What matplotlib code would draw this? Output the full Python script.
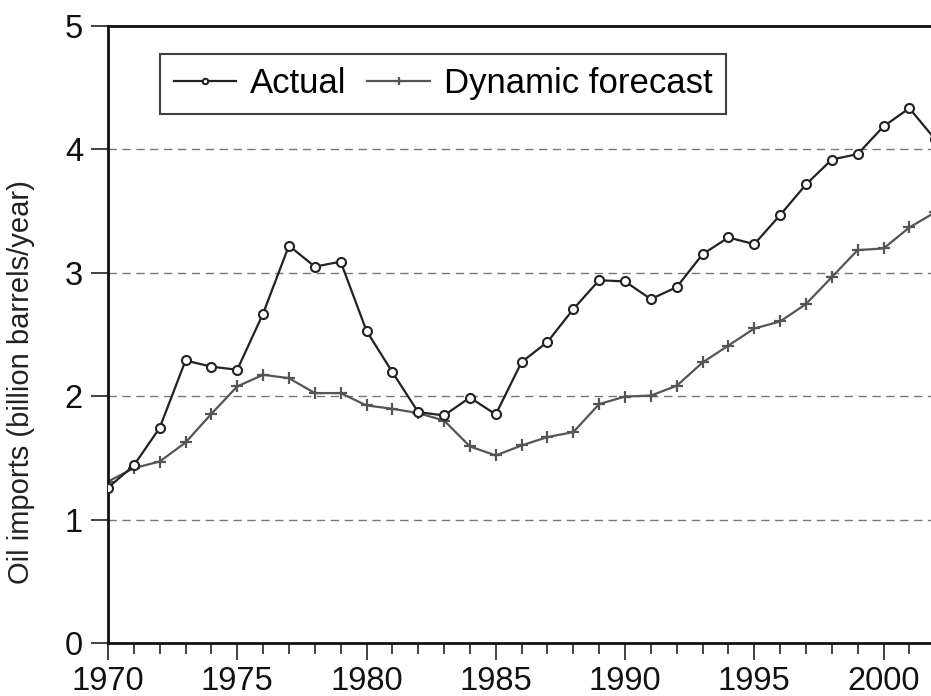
import matplotlib
matplotlib.use("Agg")
import matplotlib.pyplot as plt
from matplotlib.ticker import MultipleLocator

years = list(range(1970, 2003))
actual = [1.26, 1.44, 1.745, 2.29, 2.24, 2.215, 2.67, 3.22, 3.05, 3.09,
          2.53, 2.196, 1.872, 1.845, 1.99, 1.853, 2.277, 2.44, 2.706, 2.94,
          2.93, 2.787, 2.884, 3.15, 3.286, 3.232, 3.467, 3.715, 3.917, 3.961,
          4.185, 4.333, 4.08]
forecast = [1.31, 1.418, 1.472, 1.626, 1.858, 2.08, 2.174, 2.147, 2.026, 2.026,
            1.926, 1.899, 1.864, 1.804, 1.594, 1.521, 1.602, 1.67, 1.71, 1.937,
            1.998, 2.006, 2.085, 2.274, 2.411, 2.549, 2.606, 2.747, 2.965, 3.184,
            3.197, 3.367, 3.49]
yticks = [0, 1, 2, 3, 4, 5]
xticks = [1970, 1975, 1980, 1985, 1990, 1995, 2000]

plt.rcParams['font.family'] = ['Liberation Sans', 'DejaVu Sans']

W, H = 931, 696
fig = plt.figure(figsize=(W / 100, H / 100), dpi=100)
ax_left, ax_right, ax_top, ax_bottom = 108, 931, 25.8, 643.3
ax = fig.add_axes([ax_left / W, 1 - ax_bottom / H, (ax_right - ax_left) / W, (ax_bottom - ax_top) / H])

px_per_year = 25.85
ax.set_xlim(1970, 1970 + (ax_right - ax_left) / px_per_year)
ax.set_ylim(0, 5)

for y in [1, 2, 3, 4]:
    ax.axhline(y, color='#777777', lw=1.0, ls=(0, (6, 4)), zorder=1)

ax.plot(years, actual, color='#222222', lw=1.6, marker='o', ms=6.5,
        mfc='white', mec='#222222', mew=1.5, label='Actual', zorder=3)
ax.plot(years, forecast, color='#555555', lw=1.6, marker='+', ms=9,
        mew=1.6, label='Dynamic forecast', zorder=2)

ax.set_xticks(xticks)
ax.xaxis.set_minor_locator(MultipleLocator(1))
ax.set_yticks(yticks)
ax.tick_params(axis='both', which='major', direction='out', length=12, width=1.2,
               labelsize=23.5, color='#222222', labelcolor='#111111')
ax.tick_params(axis='x', which='major', pad=4)
ax.tick_params(axis='x', which='minor', direction='out', length=8, width=1.2, color='#222222')
ax.tick_params(axis='y', which='major', pad=6)

for s in ['left', 'bottom', 'top']:
    ax.spines[s].set_linewidth(2.0)
    ax.spines[s].set_color('#111111')
ax.spines['right'].set_visible(False)

fig.text(21 / W, 1 - 382 / H, 'Oil imports (billion barrels/year)', rotation=90,
         ha='center', va='center', fontsize=21, color='#222222')

leg = ax.legend(loc='upper left', bbox_to_anchor=(0.063, 0.955), ncol=2,
                fontsize=25, frameon=True, fancybox=False, edgecolor='#111111',
                handlelength=1.8, handletextpad=0.4, columnspacing=0.6,
                borderpad=0.4, borderaxespad=0, markerscale=0.6)
leg.get_frame().set_linewidth(1.5)

fig.savefig('out.png', dpi=100, facecolor='white')
